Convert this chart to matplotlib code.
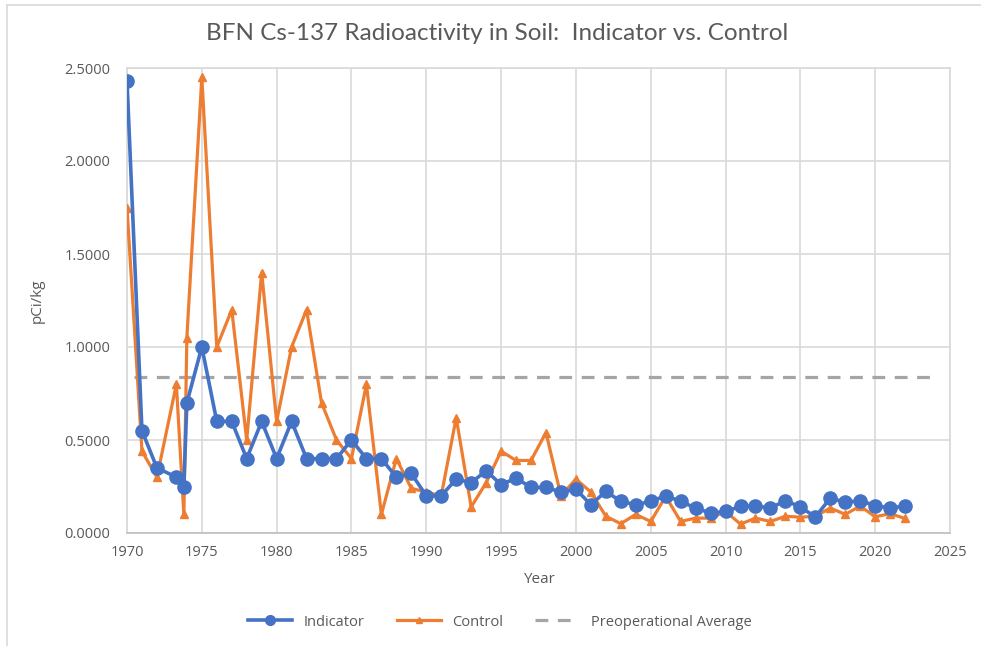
import matplotlib
matplotlib.use("Agg")
import matplotlib.pyplot as plt
from matplotlib.lines import Line2D
from matplotlib.ticker import FormatStrFormatter, MultipleLocator

# ---- data ----
ind_years = [1970, 1971, 1972, 1973.3, 1973.8, 1974, 1975, 1976, 1977, 1978, 1979,
             1980, 1981, 1982, 1983, 1984, 1985, 1986, 1987, 1988, 1989,
             1990, 1991, 1992, 1993, 1994, 1995, 1996, 1997, 1998, 1999,
             2000, 2001, 2002, 2003, 2004, 2005, 2006, 2007, 2008, 2009,
             2010, 2011, 2012, 2013, 2014, 2015, 2016, 2017, 2018, 2019,
             2020, 2021, 2022]
indicator = [2.43, 0.55, 0.35, 0.30, 0.25, 0.70, 1.00, 0.60, 0.60, 0.40, 0.60,
             0.40, 0.60, 0.40, 0.40, 0.40, 0.50, 0.40, 0.40, 0.30, 0.32,
             0.20, 0.20, 0.29, 0.27, 0.335, 0.26, 0.295, 0.245, 0.245, 0.22,
             0.235, 0.152, 0.224, 0.17, 0.152, 0.17, 0.20, 0.17, 0.134, 0.107,
             0.116, 0.143, 0.145, 0.134, 0.174, 0.14, 0.086, 0.188, 0.165, 0.174,
             0.147, 0.134, 0.145]
ctl_years = ind_years
control = [1.75, 0.44, 0.30, 0.80, 0.10, 1.05, 2.45, 1.00, 1.20, 0.50, 1.40,
           0.60, 1.00, 1.20, 0.70, 0.50, 0.40, 0.80, 0.10, 0.40, 0.24,
           0.22, 0.20, 0.62, 0.14, 0.27, 0.44, 0.39, 0.39, 0.54, 0.20,
           0.29, 0.22, 0.09, 0.05, 0.10, 0.062, 0.197, 0.062, 0.08, 0.08,
           0.116, 0.048, 0.08, 0.062, 0.09, 0.085, 0.09, 0.134, 0.10, 0.145,
           0.087, 0.104, 0.078]
preop_avg = 0.84
preop_range = [1970.5, 2024]

title = "BFN Cs-137 Radioactivity in Soil:  Indicator vs. Control"
xlabel = "Year"
ylabel = "pCi/kg"

# ---- style ----
blue = "#4472C4"
orange = "#ED7D31"
gray_dash = "#A5A5A5"
grid_c = "#D9D9D9"
txt_c = "#595959"

fig = plt.figure(figsize=(9.81, 6.46), dpi=100)
W, H = 981, 646
ax = fig.add_axes([127 / W, (H - 533) / H, (950 - 127) / W, (533 - 68) / H])

ax.plot(ind_years, indicator, color=blue, lw=2.6, marker="o", ms=9.5,
        label="Indicator", zorder=4)
ax.plot(ctl_years, control, color=orange, lw=2.3, marker="^", ms=5.5,
        label="Control", zorder=3)
ax.plot(preop_range, [preop_avg, preop_avg], color=gray_dash, lw=2.3,
        ls=(0, (4, 3)), label="Preoperational Average", zorder=2)

ax.set_xlim(1970, 2025)
ax.set_ylim(0, 2.5)
ax.xaxis.set_major_locator(MultipleLocator(5))
ax.yaxis.set_major_locator(MultipleLocator(0.5))
ax.yaxis.set_major_formatter(FormatStrFormatter("%.4f"))
ax.grid(True, color=grid_c, lw=1.2)
ax.set_axisbelow(True)
for s in ax.spines.values():
    s.set_color(grid_c)
    s.set_linewidth(1.2)
ax.spines["bottom"].set_color("#BFBFBF")
ax.tick_params(length=0, labelsize=10.5, labelcolor=txt_c)
ax.tick_params(axis="y", pad=12)
ax.tick_params(axis="x", pad=9)
for lab in ax.get_xticklabels() + ax.get_yticklabels():
    lab.set_fontfamily("Open Sans")

ax.set_xlabel(xlabel, fontsize=11, color=txt_c, family="Open Sans", labelpad=8)
ax.set_ylabel(ylabel, fontsize=11, color=txt_c, family="Open Sans", labelpad=14)

fig.text(497 / W, 1 - 34 / H, title, ha="center", va="center",
         fontsize=17.5, color=txt_c, family="Lato")

handles = [
    Line2D([], [], color=blue, lw=2.6, marker="o", ms=7),
    Line2D([], [], color=orange, lw=2.3, marker="^", ms=4),
    Line2D([], [], color=gray_dash, lw=2.3, ls=(0, (4, 3))),
]
leg = fig.legend(handles, ["Indicator", "Control", "Preoperational Average"],
                 loc="center", bbox_to_anchor=(500 / W, 1 - 622 / H), ncol=3,
                 frameon=False, handlelength=3.0, columnspacing=2.2,
                 prop={"family": "Open Sans", "size": 10.5})
for t in leg.get_texts():
    t.set_color(txt_c)

# outer chart frame
fig.add_artist(Line2D([7 / W, 7 / W], [0, 1 - 5 / H], transform=fig.transFigure,
                      color="#D9D9D9", lw=1.2))
fig.add_artist(Line2D([7 / W, 1], [1 - 5 / H, 1 - 5 / H], transform=fig.transFigure,
                      color="#D9D9D9", lw=1.2))

fig.savefig("out.png", dpi=100)
